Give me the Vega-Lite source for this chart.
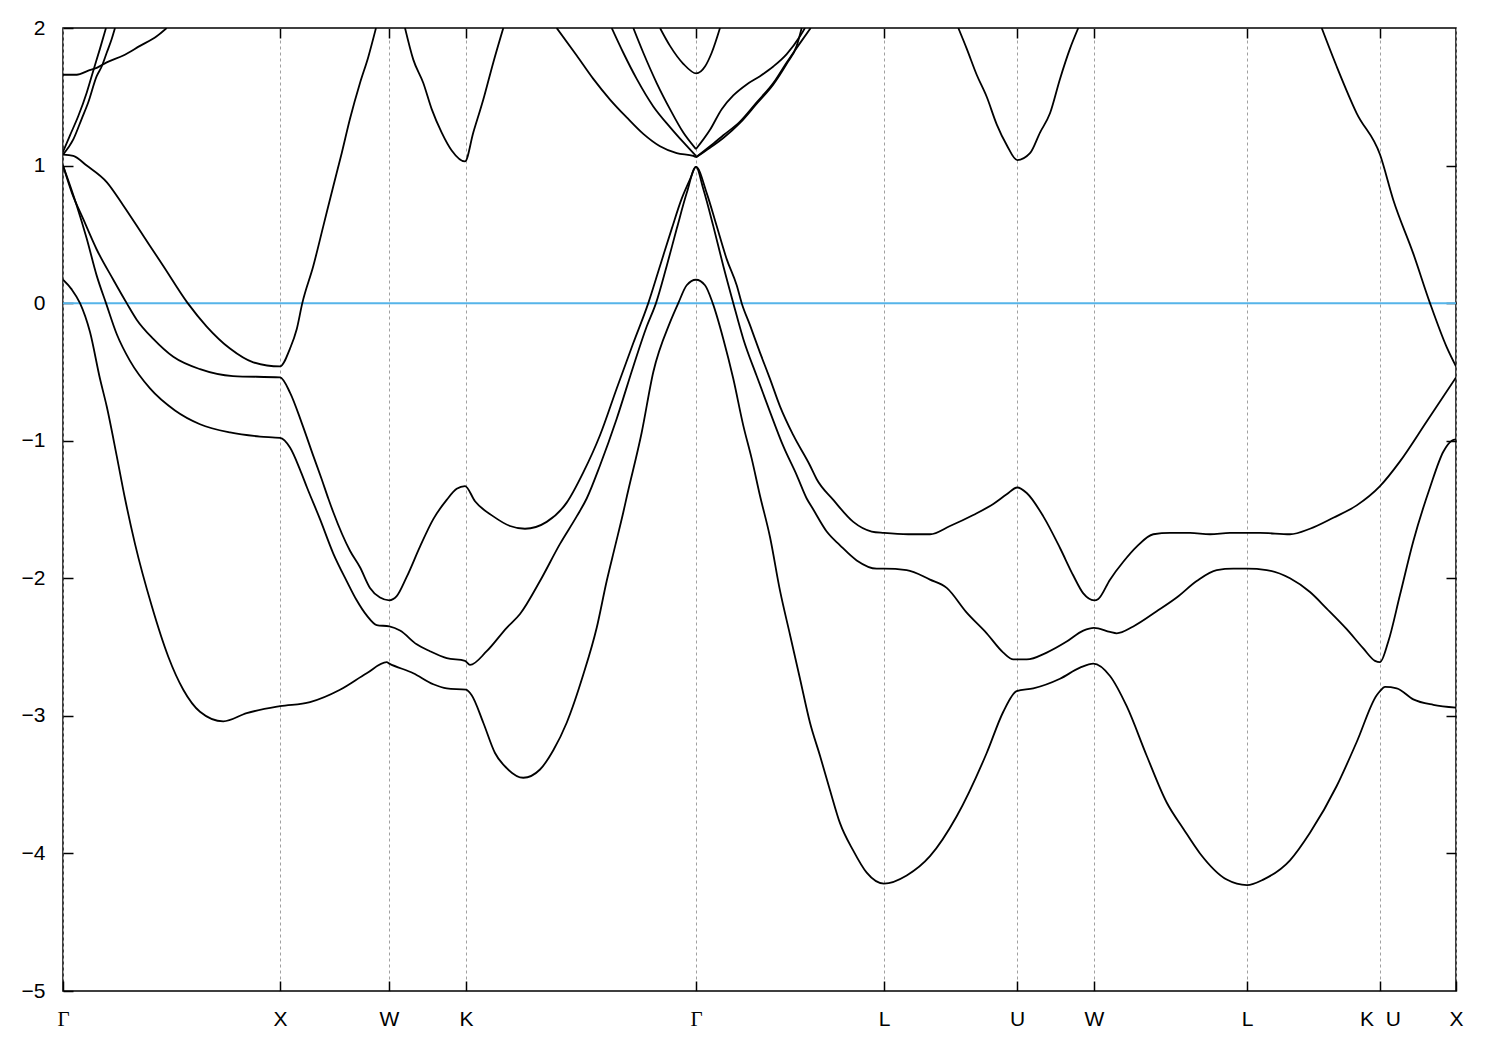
{
  "$schema": "https://vega.github.io/schema/vega-lite/v6.json",
  "width": 1393,
  "height": 963,
  "autosize": "none",
  "padding": {"left": 63, "top": 28, "right": 44, "bottom": 59},
  "background": "white",
  "config": {
    "view": {"stroke": "black", "strokeWidth": 1.5},
    "axis": {"labelFont": "Liberation Sans", "labelFontSize": 21, "labelColor": "black", "tickColor": "black", "tickWidth": 1.5, "domain": false}
  },
  "datasets": {
    "bands": [
      {"s":"b1","k":0,"E":0.17},{"s":"b1","k":8.7,"E":0.10},{"s":"b1","k":17,"E":0.0},{"s":"b1","k":27,"E":-0.21},{"s":"b1","k":37,"E":-0.55},{"s":"b1","k":43.7,"E":-0.75},{"s":"b1","k":53.7,"E":-1.11},{"s":"b1","k":62,"E":-1.42},{"s":"b1","k":72,"E":-1.75},{"s":"b1","k":88.7,"E":-2.20},{"s":"b1","k":105.3,"E":-2.57},{"s":"b1","k":120.3,"E":-2.81},{"s":"b1","k":137,"E":-2.97},{"s":"b1","k":160.3,"E":-3.04},{"s":"b1","k":183.7,"E":-2.98},{"s":"b1","k":217,"E":-2.93},
      {"s":"b1","k":247,"E":-2.90},{"s":"b1","k":277,"E":-2.81},{"s":"b1","k":303.7,"E":-2.69},{"s":"b1","k":323.7,"E":-2.61},{"s":"b1","k":326.3,"E":-2.62},
      {"s":"b1","k":350.3,"E":-2.69},{"s":"b1","k":370.3,"E":-2.77},{"s":"b1","k":383.7,"E":-2.80},{"s":"b1","k":403,"E":-2.81},
      {"s":"b1","k":408.7,"E":-2.85},{"s":"b1","k":420.3,"E":-3.05},{"s":"b1","k":432,"E":-3.27},{"s":"b1","k":443.7,"E":-3.38},{"s":"b1","k":460.3,"E":-3.45},{"s":"b1","k":477,"E":-3.39},{"s":"b1","k":490.3,"E":-3.25},{"s":"b1","k":503.7,"E":-3.05},{"s":"b1","k":520.3,"E":-2.70},{"s":"b1","k":533.7,"E":-2.36},{"s":"b1","k":543.7,"E":-2.02},{"s":"b1","k":552,"E":-1.77},{"s":"b1","k":560.3,"E":-1.52},{"s":"b1","k":564,"E":-1.40},{"s":"b1","k":578.7,"E":-0.94},{"s":"b1","k":590.3,"E":-0.50},{"s":"b1","k":607,"E":-0.14},{"s":"b1","k":615.3,"E":0.0},{"s":"b1","k":623.7,"E":0.13},{"s":"b1","k":633,"E":0.17},
      {"s":"b1","k":642,"E":0.13},{"s":"b1","k":649.7,"E":0.0},{"s":"b1","k":660.3,"E":-0.26},{"s":"b1","k":670.3,"E":-0.55},{"s":"b1","k":680.3,"E":-0.89},{"s":"b1","k":688.7,"E":-1.13},{"s":"b1","k":697,"E":-1.40},{"s":"b1","k":707,"E":-1.70},{"s":"b1","k":717,"E":-2.09},{"s":"b1","k":727,"E":-2.41},{"s":"b1","k":737,"E":-2.73},{"s":"b1","k":747,"E":-3.05},{"s":"b1","k":757,"E":-3.29},{"s":"b1","k":767,"E":-3.54},{"s":"b1","k":777,"E":-3.78},{"s":"b1","k":790.3,"E":-3.98},{"s":"b1","k":803.7,"E":-4.14},{"s":"b1","k":821,"E":-4.22},
      {"s":"b1","k":843.7,"E":-4.16},{"s":"b1","k":867,"E":-4.02},{"s":"b1","k":893.7,"E":-3.73},{"s":"b1","k":923.7,"E":-3.27},{"s":"b1","k":940.3,"E":-2.97},{"s":"b1","k":953.7,"E":-2.82},{"s":"b1","k":970.3,"E":-2.80},{"s":"b1","k":997,"E":-2.73},{"s":"b1","k":1017,"E":-2.65},{"s":"b1","k":1030.3,"E":-2.62},
      {"s":"b1","k":1047,"E":-2.71},{"s":"b1","k":1063.7,"E":-2.93},{"s":"b1","k":1083.7,"E":-3.29},{"s":"b1","k":1103.7,"E":-3.63},{"s":"b1","k":1120.3,"E":-3.82},{"s":"b1","k":1137,"E":-4.00},{"s":"b1","k":1163.7,"E":-4.19},{"s":"b1","k":1184,"E":-4.23},
      {"s":"b1","k":1200.3,"E":-4.19},{"s":"b1","k":1227,"E":-4.05},{"s":"b1","k":1247,"E":-3.85},{"s":"b1","k":1273.7,"E":-3.51},{"s":"b1","k":1293.7,"E":-3.19},{"s":"b1","k":1313.7,"E":-2.85},{"s":"b1","k":1317,"E":-2.82},{"s":"b1","k":1322,"E":-2.79},{"s":"b1","k":1333.7,"E":-2.80},{"s":"b1","k":1350.3,"E":-2.88},{"s":"b1","k":1370.3,"E":-2.92},{"s":"b1","k":1393,"E":-2.94},

      {"s":"b2","k":0,"E":1.0},{"s":"b2","k":13.7,"E":0.71},{"s":"b2","k":23.7,"E":0.47},{"s":"b2","k":33.7,"E":0.20},{"s":"b2","k":43,"E":0.0},{"s":"b2","k":54,"E":-0.23},{"s":"b2","k":67,"E":-0.42},{"s":"b2","k":87,"E":-0.62},{"s":"b2","k":112,"E":-0.78},{"s":"b2","k":137,"E":-0.88},{"s":"b2","k":167,"E":-0.94},{"s":"b2","k":197,"E":-0.97},{"s":"b2","k":217,"E":-0.98},
      {"s":"b2","k":227,"E":-1.05},{"s":"b2","k":237,"E":-1.21},{"s":"b2","k":244,"E":-1.34},{"s":"b2","k":257,"E":-1.57},{"s":"b2","k":270.3,"E":-1.82},{"s":"b2","k":283.7,"E":-2.02},{"s":"b2","k":293.7,"E":-2.16},{"s":"b2","k":303.7,"E":-2.27},{"s":"b2","k":313.7,"E":-2.34},{"s":"b2","k":326.3,"E":-2.35},
      {"s":"b2","k":337,"E":-2.38},{"s":"b2","k":353.7,"E":-2.48},{"s":"b2","k":367,"E":-2.53},{"s":"b2","k":383.7,"E":-2.58},{"s":"b2","k":402,"E":-2.60},{"s":"b2","k":407,"E":-2.63},
      {"s":"b2","k":423.7,"E":-2.53},{"s":"b2","k":443.7,"E":-2.36},{"s":"b2","k":457,"E":-2.26},{"s":"b2","k":477,"E":-2.02},{"s":"b2","k":497,"E":-1.75},{"s":"b2","k":513.7,"E":-1.55},{"s":"b2","k":523.7,"E":-1.42},{"s":"b2","k":537,"E":-1.18},{"s":"b2","k":553.7,"E":-0.84},{"s":"b2","k":570.3,"E":-0.46},{"s":"b2","k":583.7,"E":-0.17},{"s":"b2","k":593,"E":0.0},{"s":"b2","k":603.7,"E":0.27},{"s":"b2","k":613.7,"E":0.54},{"s":"b2","k":623.7,"E":0.80},{"s":"b2","k":633,"E":0.99},
      {"s":"b2","k":640.3,"E":0.83},{"s":"b2","k":650.3,"E":0.56},{"s":"b2","k":660.3,"E":0.27},{"s":"b2","k":670.3,"E":0.0},{"s":"b2","k":680.3,"E":-0.26},{"s":"b2","k":693.7,"E":-0.53},{"s":"b2","k":707,"E":-0.79},{"s":"b2","k":720.3,"E":-1.04},{"s":"b2","k":733.7,"E":-1.25},{"s":"b2","k":743.7,"E":-1.42},{"s":"b2","k":750.3,"E":-1.50},{"s":"b2","k":763.7,"E":-1.66},{"s":"b2","k":777,"E":-1.76},{"s":"b2","k":793.7,"E":-1.87},{"s":"b2","k":813.7,"E":-1.93},{"s":"b2","k":821,"E":-1.93},
      {"s":"b2","k":843.7,"E":-1.94},{"s":"b2","k":867,"E":-2.01},{"s":"b2","k":883.7,"E":-2.07},{"s":"b2","k":903.7,"E":-2.25},{"s":"b2","k":923.7,"E":-2.40},{"s":"b2","k":940.3,"E":-2.54},{"s":"b2","k":950.3,"E":-2.59},{"s":"b2","k":963.7,"E":-2.59},{"s":"b2","k":983.7,"E":-2.54},{"s":"b2","k":1003.7,"E":-2.46},{"s":"b2","k":1020.3,"E":-2.38},{"s":"b2","k":1031,"E":-2.36},
      {"s":"b2","k":1047,"E":-2.39},{"s":"b2","k":1053.7,"E":-2.40},{"s":"b2","k":1070.3,"E":-2.35},{"s":"b2","k":1093.7,"E":-2.24},{"s":"b2","k":1113.7,"E":-2.14},{"s":"b2","k":1133.7,"E":-2.02},{"s":"b2","k":1153.7,"E":-1.94},{"s":"b2","k":1170.3,"E":-1.93},{"s":"b2","k":1184,"E":-1.93},
      {"s":"b2","k":1203.7,"E":-1.94},{"s":"b2","k":1227,"E":-2.00},{"s":"b2","k":1247,"E":-2.10},{"s":"b2","k":1263.7,"E":-2.22},{"s":"b2","k":1283.7,"E":-2.37},{"s":"b2","k":1300.3,"E":-2.51},{"s":"b2","k":1312,"E":-2.60},{"s":"b2","k":1317,"E":-2.61},{"s":"b2","k":1325.3,"E":-2.46},{"s":"b2","k":1337,"E":-2.12},{"s":"b2","k":1350.3,"E":-1.73},{"s":"b2","k":1367,"E":-1.34},{"s":"b2","k":1380.3,"E":-1.08},{"s":"b2","k":1388.7,"E":-1.00},{"s":"b2","k":1393,"E":-0.99},

      {"s":"b3","k":0,"E":1.0},{"s":"b3","k":9,"E":0.80},{"s":"b3","k":20.3,"E":0.61},{"s":"b3","k":33.7,"E":0.39},{"s":"b3","k":50.3,"E":0.17},{"s":"b3","k":63.7,"E":0.0},{"s":"b3","k":73.7,"E":-0.12},{"s":"b3","k":90.3,"E":-0.26},{"s":"b3","k":110.3,"E":-0.39},{"s":"b3","k":137,"E":-0.48},{"s":"b3","k":170,"E":-0.53},{"s":"b3","k":217,"E":-0.54},
      {"s":"b3","k":227,"E":-0.65},{"s":"b3","k":238.7,"E":-0.87},{"s":"b3","k":250.3,"E":-1.11},{"s":"b3","k":258.7,"E":-1.28},{"s":"b3","k":265.3,"E":-1.42},{"s":"b3","k":270.3,"E":-1.52},{"s":"b3","k":287,"E":-1.80},{"s":"b3","k":297,"E":-1.92},{"s":"b3","k":307,"E":-2.07},{"s":"b3","k":317,"E":-2.14},{"s":"b3","k":326.3,"E":-2.16},
      {"s":"b3","k":333.7,"E":-2.13},{"s":"b3","k":343.7,"E":-1.99},{"s":"b3","k":357,"E":-1.77},{"s":"b3","k":370.3,"E":-1.57},{"s":"b3","k":383.7,"E":-1.43},{"s":"b3","k":393.7,"E":-1.35},{"s":"b3","k":402,"E":-1.33},
      {"s":"b3","k":412,"E":-1.44},{"s":"b3","k":430.3,"E":-1.55},{"s":"b3","k":447,"E":-1.62},{"s":"b3","k":462,"E":-1.64},{"s":"b3","k":483.7,"E":-1.59},{"s":"b3","k":503.7,"E":-1.45},{"s":"b3","k":520.3,"E":-1.23},{"s":"b3","k":537,"E":-0.96},{"s":"b3","k":553.7,"E":-0.62},{"s":"b3","k":570.3,"E":-0.29},{"s":"b3","k":585.3,"E":0.0},{"s":"b3","k":597,"E":0.27},{"s":"b3","k":608.7,"E":0.54},{"s":"b3","k":618.7,"E":0.76},{"s":"b3","k":627,"E":0.90},{"s":"b3","k":633,"E":0.99},
      {"s":"b3","k":643.7,"E":0.80},{"s":"b3","k":653.7,"E":0.56},{"s":"b3","k":663.7,"E":0.32},{"s":"b3","k":673.7,"E":0.13},{"s":"b3","k":678.7,"E":0.0},{"s":"b3","k":687,"E":-0.16},{"s":"b3","k":697,"E":-0.36},{"s":"b3","k":707,"E":-0.55},{"s":"b3","k":717,"E":-0.75},{"s":"b3","k":730.3,"E":-0.96},{"s":"b3","k":747,"E":-1.18},{"s":"b3","k":753.7,"E":-1.28},{"s":"b3","k":770.3,"E":-1.43},{"s":"b3","k":790.3,"E":-1.59},{"s":"b3","k":808.7,"E":-1.66},{"s":"b3","k":821,"E":-1.67},
      {"s":"b3","k":845.3,"E":-1.68},{"s":"b3","k":867,"E":-1.68},{"s":"b3","k":887,"E":-1.62},{"s":"b3","k":910.3,"E":-1.54},{"s":"b3","k":930.3,"E":-1.46},{"s":"b3","k":943.7,"E":-1.39},{"s":"b3","k":954.3,"E":-1.34},{"s":"b3","k":963.7,"E":-1.38},{"s":"b3","k":980.3,"E":-1.55},{"s":"b3","k":997,"E":-1.78},{"s":"b3","k":1010.3,"E":-1.98},{"s":"b3","k":1020.3,"E":-2.11},{"s":"b3","k":1031.3,"E":-2.16},
      {"s":"b3","k":1035.3,"E":-2.15},{"s":"b3","k":1047,"E":-2.01},{"s":"b3","k":1060.3,"E":-1.88},{"s":"b3","k":1073.7,"E":-1.77},{"s":"b3","k":1090.3,"E":-1.68},{"s":"b3","k":1107,"E":-1.67},{"s":"b3","k":1127,"E":-1.67},{"s":"b3","k":1147,"E":-1.68},{"s":"b3","k":1167,"E":-1.67},{"s":"b3","k":1184,"E":-1.67},
      {"s":"b3","k":1197,"E":-1.67},{"s":"b3","k":1227,"E":-1.68},{"s":"b3","k":1247,"E":-1.64},{"s":"b3","k":1270.3,"E":-1.56},{"s":"b3","k":1293.7,"E":-1.47},{"s":"b3","k":1317,"E":-1.33},{"s":"b3","k":1337,"E":-1.15},{"s":"b3","k":1363.7,"E":-0.86},{"s":"b3","k":1393,"E":-0.54},

      {"s":"b4a","k":0,"E":1.08},{"s":"b4a","k":10.3,"E":1.07},{"s":"b4a","k":23.7,"E":1.0},{"s":"b4a","k":43.7,"E":0.88},{"s":"b4a","k":60.3,"E":0.71},{"s":"b4a","k":80.3,"E":0.49},{"s":"b4a","k":100.3,"E":0.27},{"s":"b4a","k":124.7,"E":0.0},{"s":"b4a","k":143.7,"E":-0.17},{"s":"b4a","k":167,"E":-0.33},{"s":"b4a","k":190.3,"E":-0.43},{"s":"b4a","k":217,"E":-0.46},
      {"s":"b4a","k":227,"E":-0.33},{"s":"b4a","k":233.7,"E":-0.19},{"s":"b4a","k":239.3,"E":0.0},{"s":"b4a","k":250.3,"E":0.27},{"s":"b4a","k":260.3,"E":0.56},{"s":"b4a","k":270.3,"E":0.85},{"s":"b4a","k":278.7,"E":1.09},{"s":"b4a","k":287,"E":1.34},{"s":"b4a","k":297,"E":1.60},{"s":"b4a","k":305.3,"E":1.79},{"s":"b4a","k":313,"E":2.0},

      {"s":"b4b","k":342,"E":2.0},{"s":"b4b","k":350.3,"E":1.77},{"s":"b4b","k":360.3,"E":1.60},{"s":"b4b","k":368.7,"E":1.41},{"s":"b4b","k":378.7,"E":1.24},{"s":"b4b","k":388.7,"E":1.11},{"s":"b4b","k":402,"E":1.03},{"s":"b4b","k":410.3,"E":1.24},{"s":"b4b","k":420.3,"E":1.48},{"s":"b4b","k":430.3,"E":1.75},{"s":"b4b","k":440.3,"E":2.0},

      {"s":"b4c","k":895.3,"E":2.0},{"s":"b4c","k":903.7,"E":1.85},{"s":"b4c","k":913.7,"E":1.66},{"s":"b4c","k":923.7,"E":1.50},{"s":"b4c","k":933.7,"E":1.30},{"s":"b4c","k":943.7,"E":1.15},{"s":"b4c","k":954.3,"E":1.04},{"s":"b4c","k":967,"E":1.09},{"s":"b4c","k":977,"E":1.24},{"s":"b4c","k":987,"E":1.38},{"s":"b4c","k":997,"E":1.63},{"s":"b4c","k":1007,"E":1.85},{"s":"b4c","k":1015.3,"E":2.0},

      {"s":"b4d","k":1258.7,"E":2.0},{"s":"b4d","k":1273.7,"E":1.72},{"s":"b4d","k":1293.7,"E":1.38},{"s":"b4d","k":1317,"E":1.08},{"s":"b4d","k":1330.3,"E":0.75},{"s":"b4d","k":1350.3,"E":0.36},{"s":"b4d","k":1367,"E":0.0},{"s":"b4d","k":1383.7,"E":-0.32},{"s":"b4d","k":1393,"E":-0.46},

      {"s":"st1","k":0,"E":1.10},{"s":"st1","k":7,"E":1.22},{"s":"st1","k":15.3,"E":1.36},{"s":"st1","k":23.7,"E":1.53},{"s":"st1","k":30.3,"E":1.69},{"s":"st1","k":37,"E":1.85},{"s":"st1","k":43,"E":2.0},
      {"s":"st2","k":0,"E":1.08},{"s":"st2","k":10.3,"E":1.19},{"s":"st2","k":18.7,"E":1.34},{"s":"st2","k":25.3,"E":1.46},{"s":"st2","k":33.7,"E":1.65},{"s":"st2","k":38.7,"E":1.72},{"s":"st2","k":43.7,"E":1.82},{"s":"st2","k":48.7,"E":1.92},{"s":"st2","k":52,"E":2.0},
      {"s":"fl","k":0,"E":1.66},{"s":"fl","k":13.7,"E":1.66},{"s":"fl","k":25.3,"E":1.69},{"s":"fl","k":33.7,"E":1.71},{"s":"fl","k":43.7,"E":1.75},{"s":"fl","k":60.3,"E":1.80},{"s":"fl","k":77,"E":1.87},{"s":"fl","k":93.7,"E":1.94},{"s":"fl","k":103.7,"E":2.0},

      {"s":"P","k":493.7,"E":2.0},{"s":"P","k":513.7,"E":1.80},{"s":"P","k":530.3,"E":1.63},{"s":"P","k":547,"E":1.48},{"s":"P","k":563.7,"E":1.35},{"s":"P","k":580.3,"E":1.23},{"s":"P","k":597,"E":1.14},{"s":"P","k":613.7,"E":1.09},{"s":"P","k":630.3,"E":1.07},{"s":"P","k":633,"E":1.06},
      {"s":"Q","k":548.7,"E":2.0},{"s":"Q","k":560.3,"E":1.82},{"s":"Q","k":573.7,"E":1.63},{"s":"Q","k":590.3,"E":1.43},{"s":"Q","k":607,"E":1.28},{"s":"Q","k":620.3,"E":1.17},{"s":"Q","k":633,"E":1.07},
      {"s":"R","k":570.3,"E":2.0},{"s":"R","k":580.3,"E":1.82},{"s":"R","k":593.7,"E":1.60},{"s":"R","k":607,"E":1.41},{"s":"R","k":620.3,"E":1.24},{"s":"R","k":633,"E":1.12},
      {"s":"S","k":597,"E":2.0},{"s":"S","k":607,"E":1.87},{"s":"S","k":620.3,"E":1.74},{"s":"S","k":633.3,"E":1.67},{"s":"S","k":642,"E":1.72},{"s":"S","k":648.7,"E":1.82},{"s":"S","k":657,"E":2.0},
      {"s":"Rp","k":633,"E":1.12},{"s":"Rp","k":647,"E":1.26},{"s":"Rp","k":658.7,"E":1.41},{"s":"Rp","k":670.3,"E":1.51},{"s":"Rp","k":683.7,"E":1.59},{"s":"Rp","k":697,"E":1.65},{"s":"Rp","k":710.3,"E":1.72},{"s":"Rp","k":723.7,"E":1.81},{"s":"Rp","k":737,"E":1.94},{"s":"Rp","k":742,"E":2.0},
      {"s":"pa1","k":633,"E":1.06},{"s":"pa1","k":647,"E":1.13},{"s":"pa1","k":660.3,"E":1.20},{"s":"pa1","k":677,"E":1.31},{"s":"pa1","k":693.7,"E":1.45},{"s":"pa1","k":710.3,"E":1.59},{"s":"pa1","k":723.7,"E":1.74},{"s":"pa1","k":733.7,"E":1.87},{"s":"pa1","k":738.7,"E":2.0},
      {"s":"pa2","k":633,"E":1.06},{"s":"pa2","k":647,"E":1.14},{"s":"pa2","k":660.3,"E":1.22},{"s":"pa2","k":677,"E":1.32},{"s":"pa2","k":693.7,"E":1.46},{"s":"pa2","k":710.3,"E":1.60},{"s":"pa2","k":723.7,"E":1.75},{"s":"pa2","k":737,"E":1.89},{"s":"pa2","k":747.7,"E":2.0}
    ]
  },
  "layer": [
    {
      "data": {"values": [{"E": 0}]},
      "mark": {"type": "rule", "color": "#56b4e9", "strokeWidth": 2},
      "encoding": {
        "y": {"field": "E", "type": "quantitative", "scale": {"domain": [-5, 2], "nice": false, "zero": false}, "axis": null}
      }
    },
    {
      "data": {"name": "bands"},
      "mark": {"type": "line", "color": "black", "strokeWidth": 1.8, "clip": true, "interpolate": "monotone"},
      "encoding": {
        "x": {"field": "k", "type": "quantitative", "scale": {"domain": [0, 1393], "nice": false, "zero": false},
          "axis": {"title": null, "orient": "bottom", "values": [0, 217, 326, 403, 633, 821, 954, 1031, 1184, 1317, 1393],
            "labelExpr": "datum.value==0||datum.value==633?'Γ':datum.value==217||datum.value==1393?'X':datum.value==326||datum.value==1031?'W':datum.value==403?'K':datum.value==821||datum.value==1184?'L':datum.value==954?'U':'K\u00a0\u00a0U'",
            "labelFont": {"condition": {"test": "datum.value==0||datum.value==633", "value": "Liberation Serif"}, "value": "Liberation Sans"},
            "labelOverlap": false, "labelFlush": false, "labelBound": false,
            "tickSize": -10, "labelPadding": 27,
            "grid": true, "gridColor": "#a0a0a0", "gridDash": [3, 3], "gridWidth": 1}},
        "y": {"field": "E", "type": "quantitative", "scale": {"domain": [-5, 2], "nice": false, "zero": false},
          "axis": {"title": null, "orient": "left", "values": [-5, -4, -3, -2, -1, 0, 1, 2], "format": "d",
            "tickSize": -10, "labelPadding": 28, "grid": false, "labelFlush": false, "labelOverlap": false}},
        "detail": {"field": "s", "type": "nominal"}
      }
    },
    {
      "data": {"name": "bands"},
      "mark": {"type": "line", "strokeOpacity": 0, "clip": true},
      "encoding": {
        "x": {"field": "k", "type": "quantitative", "scale": {"domain": [0, 1393], "nice": false, "zero": false},
          "axis": {"title": null, "orient": "top", "values": [217, 326, 403, 633, 821, 954, 1031, 1184, 1317], "labels": false, "tickSize": -10, "grid": false}},
        "y": {"field": "E", "type": "quantitative", "scale": {"domain": [-5, 2], "nice": false, "zero": false},
          "axis": {"title": null, "orient": "right", "values": [-4, -3, -2, -1, 0, 1], "labels": false, "tickSize": -10, "grid": false}},
        "detail": {"field": "s", "type": "nominal"}
      }
    }
  ],
  "resolve": {"axis": {"x": "independent", "y": "independent"}}
}
